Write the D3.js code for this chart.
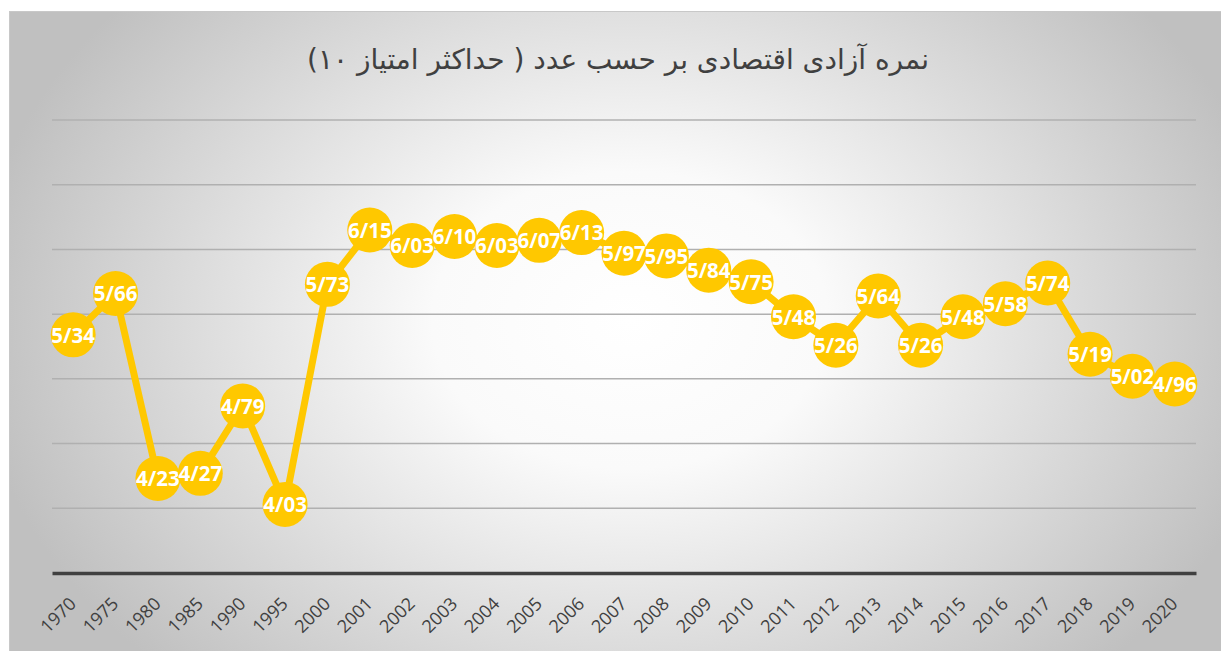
<!DOCTYPE html>
<html lang="fa">
<head>
  <meta charset="utf-8">
  <title>نمره آزادی اقتصادی</title>
  <style>
  html, body {padding: 0; margin: 0; overflow: hidden; background: #fff}
</style>
</head>
<body>
  <svg></svg>
  <script src="https://cdn.jsdelivr.net/npm/d3@7"></script>
  <script>

  var years = ["1970","1975","1980","1985","1990","1995","2000","2001","2002","2003","2004","2005","2006","2007",
               "2008","2009","2010","2011","2012","2013","2014","2015","2016","2017","2018","2019","2020"];
  var scores = [5.34,5.66,4.23,4.27,4.79,4.03,5.73,6.15,6.03,6.10,6.03,6.07,6.13,5.97,
                5.95,5.84,5.75,5.48,5.26,5.64,5.26,5.48,5.58,5.74,5.19,5.02,4.96];
  var gridValues = [4, 4.5, 5, 5.5, 6, 6.5, 7];
  var title = "نمره آزادی اقتصادی بر حسب عدد ( حداکثر امتیاز ۱۰)";

  var width = 1221, height = 651;
  var svg = d3.select("svg").attr("width", width).attr("height", height);

  var data = years.map(function(y, i) { return {year: y, value: scores[i]}; });

  // background with radial gradient
  var defs = svg.append("defs");
  var grad = defs.append("radialGradient")
      .attr("id", "bg")
      .attr("gradientUnits", "userSpaceOnUse")
      .attr("cx", 630).attr("cy", 320).attr("r", 660)
      .attr("gradientTransform", "translate(630,320) scale(1,0.75) translate(-630,-320)");
  grad.append("stop").attr("offset", "0%").attr("stop-color", "#ffffff");
  grad.append("stop").attr("offset", "30%").attr("stop-color", "#fafafa");
  grad.append("stop").attr("offset", "100%").attr("stop-color", "#c0c0c0");

  svg.append("rect")
      .attr("x", 9.5).attr("y", 11.5)
      .attr("width", width - 9).attr("height", height - 11)
      .attr("fill", "url(#bg)")
      .attr("stroke", "#c8c8c8")
      .attr("stroke-width", 1);

  var x = d3.scaleBand().domain(years).range([52, 1196]);
  var y = d3.scaleLinear().domain([3.5, 7]).range([573, 120]);

  function cx(d) { return x(d.year) + x.bandwidth() / 2; }

  // title
  svg.append("text")
      .attr("x", 618).attr("y", 69)
      .attr("text-anchor", "middle")
      .attr("direction", "rtl")
      .style("font-family", "'DejaVu Sans', sans-serif")
      .style("font-size", "28px")
      .attr("fill", "#404040")
      .text(title);

  // gridlines
  svg.append("g").selectAll("line")
    .data(gridValues)
    .enter().append("line")
      .attr("x1", 52).attr("x2", 1196)
      .attr("y1", function(d) { return y(d); })
      .attr("y2", function(d) { return y(d); })
      .attr("stroke", "#b0b0b0")
      .attr("stroke-width", 1.5);

  // x axis
  var xAxis = svg.append("g")
      .attr("transform", "translate(0," + y(3.5) + ")")
      .call(d3.axisBottom(x).tickSize(0).tickPadding(0));
  xAxis.select(".domain")
      .attr("stroke", "#404040")
      .attr("stroke-width", 3.5);
  xAxis.selectAll(".tick text")
      .attr("x", 0).attr("y", 0).attr("dy", 0)
      .attr("text-anchor", "end")
      .attr("transform", "translate(4,32) rotate(-45)")
      .style("font-family", "'Open Sans', sans-serif")
      .style("font-size", "18px")
      .attr("fill", "#404040");

  // line
  var line = d3.line()
      .x(cx)
      .y(function(d) { return y(d.value); });

  svg.append("path")
      .datum(data)
      .attr("d", line)
      .attr("fill", "none")
      .attr("stroke", "#ffc800")
      .attr("stroke-width", 7)
      .attr("stroke-linejoin", "round");

  // markers
  var pts = svg.append("g").selectAll("g")
    .data(data)
    .enter().append("g")
      .attr("transform", function(d) { return "translate(" + cx(d) + "," + y(d.value) + ")"; });

  pts.append("circle")
      .attr("r", 22.5)
      .attr("fill", "#ffc800");

  pts.append("text")
      .attr("text-anchor", "middle")
      .attr("dy", "0.38em")
      .style("font-family", "'Open Sans', sans-serif")
      .style("font-size", "20.5px")
      .style("font-weight", "bold")
      .attr("fill", "#ffffff")
      .text(function(d) { return d.value.toFixed(2).replace(".", "/"); });

  </script>
</body>
</html>
